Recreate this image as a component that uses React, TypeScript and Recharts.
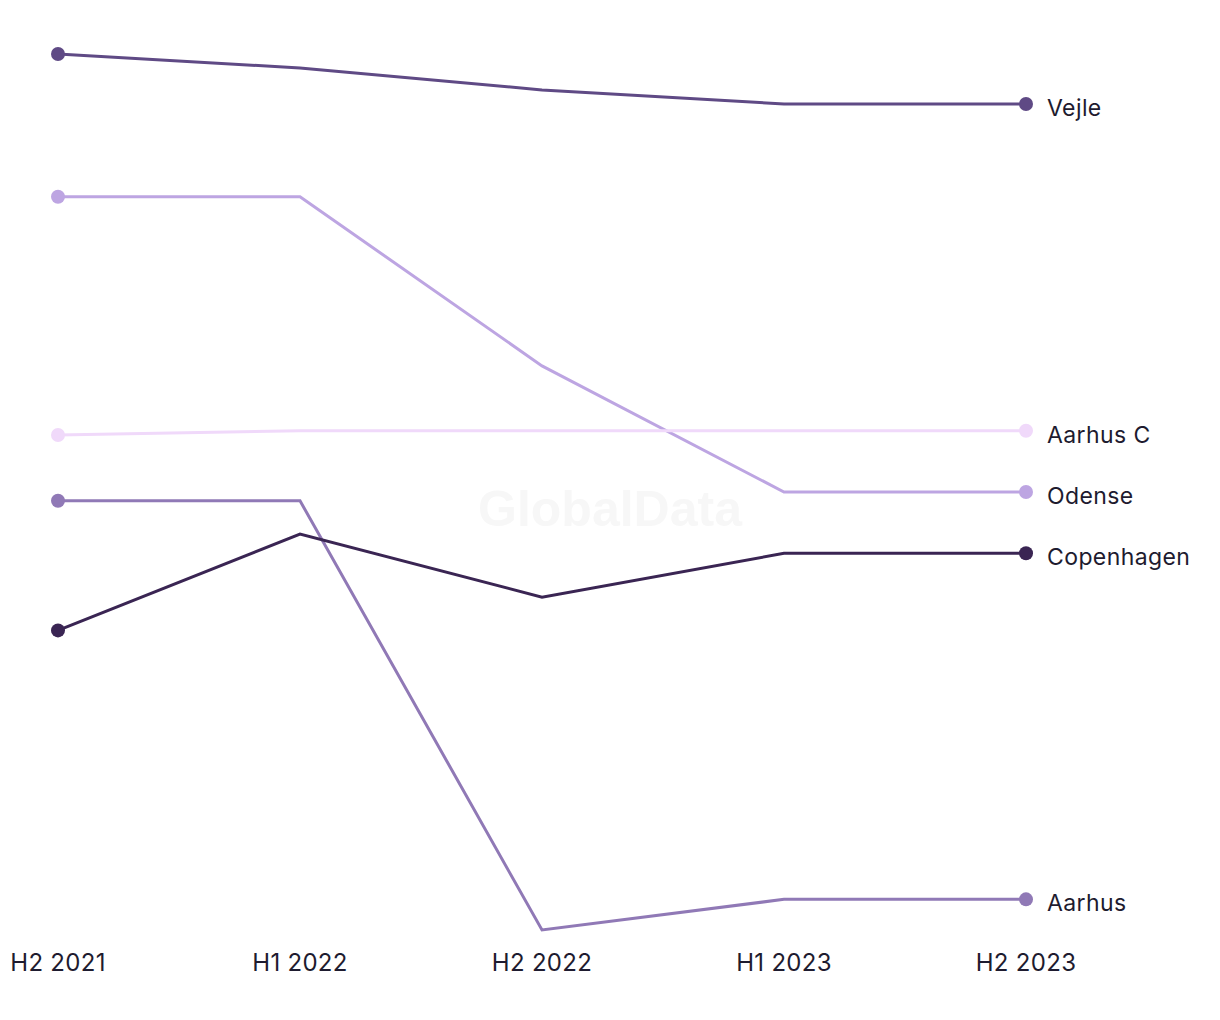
import { LineChart, Line, XAxis, YAxis, LabelList } from 'recharts';

// half-year periods on the x axis
const periods = ['H2 2021', 'H1 2022', 'H2 2022', 'H1 2023', 'H2 2023'];

// index values (no axis shown, 0-100 scale)
const vejle = [100, 98.4, 95.9, 94.3, 94.3];
const odense = [83.7, 83.7, 64.4, 50.0, 50.0];
const aarhusC = [56.5, 57.0, 57.0, 57.0, 57.0];
const aarhus = [49.0, 49.0, 0, 3.5, 3.5];
const copenhagen = [34.2, 45.2, 38.0, 43.0, 43.0];

const series = [
  { key: 'Vejle', values: vejle, color: '#5f4a85' },
  { key: 'Odense', values: odense, color: '#bda5e2' },
  { key: 'Aarhus C', values: aarhusC, color: '#f0d9fa' },
  { key: 'Aarhus', values: aarhus, color: '#9079b6' },
  { key: 'Copenhagen', values: copenhagen, color: '#3a2553' },
];

const data = periods.map((p, i) => {
  const row: Record<string, string | number> = { period: p };
  series.forEach((s) => {
    row[s.key] = s.values[i];
  });
  return row;
});

const TEXT = '#1e1b2f';
const FONT = 'Inter, "Noto Sans", sans-serif';

const last = periods.length - 1;

function endDot(color: string) {
  return (props: any) => {
    const { cx, cy, index } = props;
    if (index !== 0 && index !== last) return <g key={`d${index}`} />;
    return <circle key={`d${index}`} cx={cx} cy={cy} r={7} fill={color} />;
  };
}

function endLabel(name: string) {
  return (props: any) => {
    const { x, y, index } = props;
    if (index !== last) return null;
    return (
      <text x={x + 21} y={y + 12} fill={TEXT} fontSize={23} letterSpacing={0.4} fontFamily={FONT}>
        {name}
      </text>
    );
  };
}

const PeriodTick = (props: any) => {
  const { x, y, payload } = props;
  return (
    <text x={x} y={y + 41} textAnchor="middle" fill={TEXT} fontSize={24} letterSpacing={0.3} fontFamily={FONT}>
      {payload.value}
    </text>
  );
};

export default function App() {
  return (
    <div style={{ position: 'absolute', left: 0, top: 0, width: 1220, height: 1020, background: '#fff' }}>
      <div
        style={{
          position: 'absolute',
          left: 0,
          width: 1220,
          top: 480,
          textAlign: 'center',
          fontFamily: '"Liberation Sans", Arial, sans-serif',
          fontWeight: 700,
          fontSize: 50,
          color: '#f7f7f7',
        }}
      >
        GlobalData
      </div>
      <LineChart
        width={1220}
        height={1020}
        data={data}
        margin={{ top: 54, right: 194, left: 58, bottom: 30 }}
        style={{ position: 'absolute', left: 0, top: 0 }}
      >
        <XAxis
          dataKey="period"
          height={60}
          axisLine={false}
          tickLine={false}
          tickSize={0}
          tickMargin={0}
          interval={0}
          tick={<PeriodTick />}
        />
        <YAxis hide domain={[0, 100]} />
        {series.map((s) => (
          <Line
            key={s.key}
            dataKey={s.key}
            type="linear"
            stroke={s.color}
            strokeWidth={3}
            dot={endDot(s.color)}
            activeDot={false}
            isAnimationActive={false}
          >
            <LabelList dataKey={s.key} content={endLabel(s.key)} />
          </Line>
        ))}
      </LineChart>
    </div>
  );
}
